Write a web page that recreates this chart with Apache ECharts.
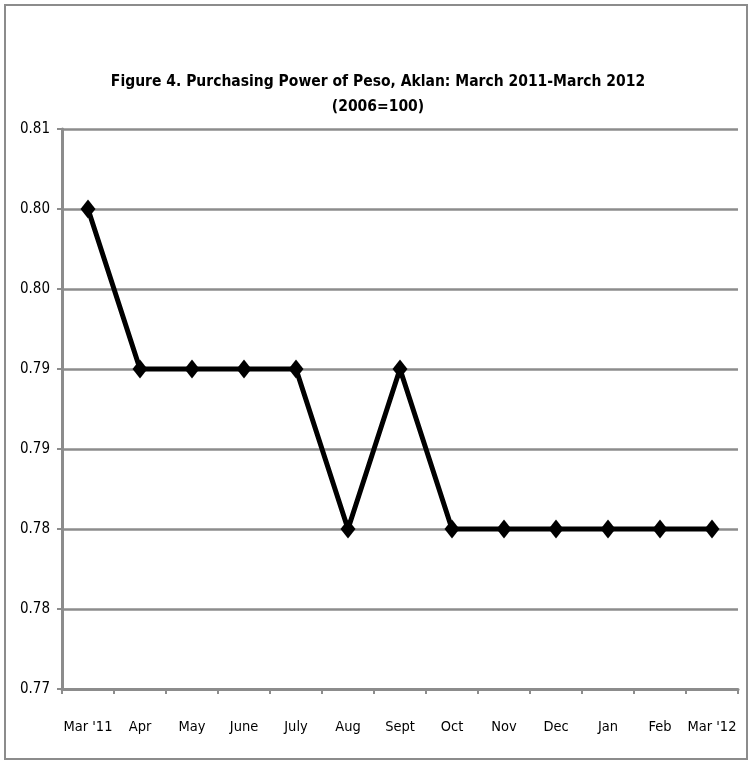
<!DOCTYPE html>
<html>
<head>
<meta charset="utf-8">
<script src="https://cdn.jsdelivr.net/npm/echarts@6/dist/echarts.min.js"></script>
<style>
  html, body { margin: 0; padding: 0; background: #fff; }
  #frame { position: absolute; left: 4px; top: 4px; width: 744px; height: 756px; border: 2px solid #8c8c8c; box-sizing: border-box; }
  #chart { position: absolute; left: 0; top: 0; width: 756px; height: 765px; }
</style>
</head>
<body>
<div id="frame"></div>
<div id="chart"></div>
<script>
// Purchasing power of the peso, Aklan, monthly (2006=100)
const months = ["Mar '11", "Apr", "May", "June", "July", "Aug", "Sept", "Oct", "Nov", "Dec", "Jan", "Feb", "Mar '12"];
const purchasingPower = [0.800, 0.790, 0.790, 0.790, 0.790, 0.780, 0.790, 0.780, 0.780, 0.780, 0.780, 0.780, 0.780];
// Axis tick labels as printed (two-decimal rounding of 0.005 steps)
const yTickLabels = ["0.77", "0.78", "0.78", "0.79", "0.79", "0.80", "0.80", "0.81"];
const yMin = 0.770, yMax = 0.805, yStep = 0.005;

const font = "'Liberation Sans Narrow', 'Arial Narrow', 'DejaVu Sans Condensed', sans-serif";
const chart = echarts.init(document.getElementById('chart'), null, { renderer: 'canvas' });
chart.setOption({
  animation: false,
  backgroundColor: 'transparent',
  title: {
    text: 'Figure 4. Purchasing Power of Peso, Aklan: March 2011-March 2012\n(2006=100)',
    left: 'center',
    top: 64,
    textStyle: { fontFamily: font, fontWeight: 'bold', fontSize: 15.5, color: '#000', lineHeight: 25 }
  },
  grid: { left: 62, right: 18, top: 129, bottom: 76, containLabel: false },
  xAxis: {
    type: 'category',
    data: months,
    boundaryGap: true,
    axisLine: { lineStyle: { color: '#8c8c8c', width: 3 } },
    axisTick: { show: true, length: 5, lineStyle: { color: '#8c8c8c', width: 2 } },
    axisLabel: { fontFamily: font, fontSize: 14.5, color: '#000', margin: 31, interval: 0 },
    splitLine: { show: false }
  },
  yAxis: {
    type: 'value',
    min: yMin,
    max: yMax,
    interval: yStep,
    axisLine: { show: true, lineStyle: { color: '#8c8c8c', width: 3 } },
    axisTick: { show: true, length: 5, lineStyle: { color: '#8c8c8c', width: 2 } },
    axisLabel: {
      fontFamily: font, fontSize: 15, color: '#000', margin: 12,
      formatter: function (v) { return yTickLabels[Math.round((v - yMin) / yStep)]; }
    },
    splitLine: { show: true, lineStyle: { color: '#8c8c8c', width: 2.5 } }
  },
  series: [{
    type: 'line',
    data: purchasingPower,
    symbol: 'diamond',
    symbolSize: [15, 19],
    showAllSymbol: true,
    itemStyle: { color: '#000' },
    lineStyle: { color: '#000', width: 5 }
  }]
});
</script>
</body>
</html>
